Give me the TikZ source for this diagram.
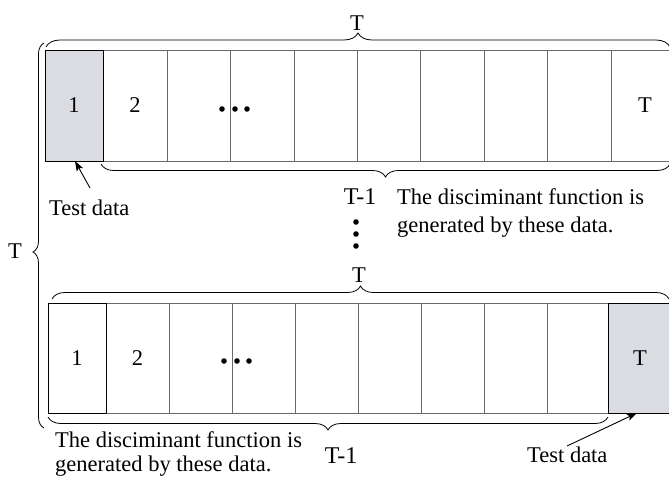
\documentclass[tikz,border=0pt]{standalone}
\usepackage{fontspec}
\setmainfont{Liberation Serif}
\usetikzlibrary{decorations.pathreplacing,arrows.meta}
\definecolor{shade}{RGB}{218,220,225}
\definecolor{divider}{RGB}{105,105,105}
\begin{document}
\begin{tikzpicture}[x=1pt,y=-1pt,
  lbl/.style={font=\fontsize{22.5}{27}\selectfont, inner sep=0pt},
  big/.style={font=\fontsize{24}{29}\selectfont, inner sep=0pt},
  cell/.style={draw=divider, line width=0.9pt, inner sep=0pt, outer sep=0pt,
               font=\fontsize{22.5}{27}\selectfont},
  keycell/.style={cell, draw=black, line width=1pt},
  curly/.style={decorate, decoration={brace, amplitude=#1}, line width=0.8pt},
  curly/.default=13pt,
  arr/.style={-{Stealth[length=10pt,width=7pt,inset=2pt]}, line width=0.9pt},
  dot/.style={fill=black}]
\clip (0,0) rectangle (669,477);
\useasboundingbox (0,0) rectangle (669,477);

% ---------- top row ----------
\foreach \a/\b/\n/\t in {103/167/t2/2, 167/230/t3/, 230/294/t4/, 294/357/t5/, 357/420/t6/,
                         420/484/t7/, 484/547/t8/, 547/611/t9/, 611/679/t10/T}
  \node[cell, minimum width={(\b-\a)*1pt}, minimum height=111pt] (\n) at ({(\a+\b)/2},105.5) {\t};
\node[keycell, fill=shade, minimum width=58pt, minimum height=111pt] (t1) at (74,105.5) {1};
\fill[dot] (222,109) circle (2.8);
\fill[dot] (235,109) circle (2.8);
\fill[dot] (247,109) circle (2.8);

% ---------- bottom row ----------
\foreach \a/\b/\n/\t in {106/169/b2/2, 169/232/b3/, 232/295/b4/, 295/358/b5/, 358/421/b6/,
                         421/484/b7/, 484/547/b8/, 547/608/b9/}
  \node[cell, minimum width={(\b-\a)*1pt}, minimum height=110pt] (\n) at ({(\a+\b)/2},358) {\t};
\node[keycell, minimum width=58pt, minimum height=110pt] (b1) at (77,358) {1};
\node[keycell, fill=shade, minimum width=64pt, minimum height=110pt] (b10) at (640,358) {T};
\fill[dot] (224,361) circle (2.8);
\fill[dot] (237,361) circle (2.8);
\fill[dot] (249,361) circle (2.8);

% ---------- braces ----------
\draw[curly=14pt] (46,47) -- (670,47);
\draw[curly=13pt] (670,164) -- (101,164);
\draw[curly=13pt] (52,299) -- (669,299);
\draw[curly=13pt] (608,417) -- (48,417);
\draw[decorate, decoration={brace, amplitude=11pt, aspect=0.457}, line width=0.8pt] (44,428) -- (44,43);

% ---------- labels ----------
\node[lbl, anchor=base] (Ttop) at (357,30) {T};
\node[big, anchor=base] (Tm1top) at (360,204) {T-1};
\node[lbl, anchor=base west] (gen1a) at (397,204) {The disciminant function is};
\node[lbl, anchor=base west] (gen1b) at (397,232) {generated by these data.};
\node[lbl, anchor=base] (Tmid) at (359,282) {T};
\node[big, anchor=base] (Tm1bot) at (341,463) {T-1};
\node[lbl, anchor=base west] (gen2a) at (55,447) {The disciminant function is};
\node[lbl, anchor=base west] (gen2b) at (55,471) {generated by these data.};
\node[lbl, anchor=base] (Tleft) at (15,258) {T};
\node[lbl, anchor=base west] (test1) at (49,215) {Test data};
\node[lbl, anchor=base west] (test2) at (527,462) {Test data};

% vertical dots
\fill[dot] (356,222) circle (2.8);
\fill[dot] (356,234) circle (2.8);
\fill[dot] (356,246) circle (2.8);

% ---------- arrows ----------
\coordinate (a1) at (90,188);
\coordinate (a2) at (567,446);
\draw[arr] (a1) -- ([xshift=1pt]t1.south);
\draw[arr] (a2) -- ([xshift=-3pt]b10.south);
\end{tikzpicture}
\end{document}
